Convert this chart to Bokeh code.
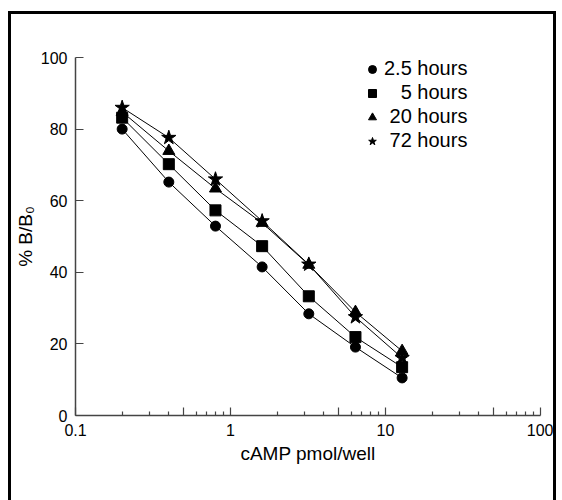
from bokeh.plotting import figure
from bokeh.models import FixedTicker, Legend, LegendItem, Range1d
from bokeh.embed import file_html
from bokeh.resources import INLINE

# Data
camp = [0.2, 0.4, 0.8, 1.6, 3.2, 6.4, 12.8]
b_2_5h = [80.0, 65.2, 52.9, 41.5, 28.4, 19.1, 10.5]
b_5h = [83.2, 70.2, 57.3, 47.3, 33.3, 21.9, 13.5]
b_20h = [84.8, 73.9, 63.4, 53.8, 42.1, 28.9, 18.0]
b_72h = [86.0, 77.6, 66.0, 54.3, 42.2, 27.5, 16.1]
series_labels = ["2.5 hours", "\u2007\u20085 hours", "\u200820 hours", "\u200872 hours"]
x_major = [0.1, 0.5, 1, 5, 10, 50, 100]
x_minor = [d * k for d in (0.1, 1, 10) for k in (2, 3, 4, 6, 7, 8, 9)]
y_ticks = [0, 20, 40, 60, 80, 100]

FONT = "Liberation Sans"

p = figure(width=548, height=489, x_axis_type="log",
           x_range=Range1d(0.1, 100), y_range=Range1d(0, 100),
           output_backend="svg", toolbar_location=None,
           min_border_left=64, min_border_right=19,
           min_border_top=43, min_border_bottom=88)
p.styles = {"border-top": "3px solid black", "border-left": "3px solid black",
            "border-right": "3px solid black",
            "margin-top": "11px", "margin-left": "8px"}
p.grid.visible = False
p.outline_line_color = None

p.xaxis.ticker = FixedTicker(ticks=x_major, minor_ticks=x_minor)
p.xaxis.major_label_overrides = {0.5: "", 5: "", 50: ""}
p.yaxis.ticker = FixedTicker(ticks=y_ticks, minor_ticks=[])
p.xaxis.axis_label = "cAMP pmol/well"
p.yaxis.axis_label = "% B/B\u2080"

for ax in (p.xaxis, p.yaxis):
    ax.axis_line_color = "#444444"
    ax.axis_line_width = 1.5
    ax.major_tick_line_color = "#444444"
    ax.minor_tick_line_color = "#444444"
    ax.major_tick_line_width = 1.2
    ax.minor_tick_line_width = 1.2
    ax.major_tick_in = 8
    ax.major_tick_out = 0
    ax.minor_tick_in = 4
    ax.minor_tick_out = 0
    ax.major_label_text_font = FONT
    ax.major_label_text_font_size = "16px"
    ax.major_label_text_color = "black"
    ax.axis_label_text_font = FONT
    ax.axis_label_text_font_size = "19px"
    ax.axis_label_text_font_style = "normal"
    ax.axis_label_text_color = "black"
p.xaxis.major_label_standoff = 8
p.yaxis.major_label_standoff = 8
p.xaxis.axis_label_standoff = 4
p.yaxis.axis_label_standoff = 2

renderers = []
specs = [(b_2_5h, "circle", 10), (b_5h, "square", 11),
         (b_20h, "triangle", 12), (b_72h, "star", 15)]
for ys, marker, size in specs:
    p.line(camp, ys, line_color="black", line_width=1)
    r = p.scatter(camp, ys, marker=marker, size=size,
                  fill_color="black", line_color="black")
    renderers.append(r)

legend = Legend(items=[LegendItem(label=lab, renderers=[r])
                       for lab, r in zip(series_labels, renderers)],
                location=(287, 263), padding=0, margin=0, spacing=1,
                glyph_width=20, glyph_height=20, label_height=20,
                label_standoff=2,
                label_text_font=FONT, label_text_font_size="20px",
                label_text_color="black",
                border_line_alpha=0, background_fill_alpha=0)
p.add_layout(legend, "center")

open("out.html", "w").write(file_html(p, INLINE))
